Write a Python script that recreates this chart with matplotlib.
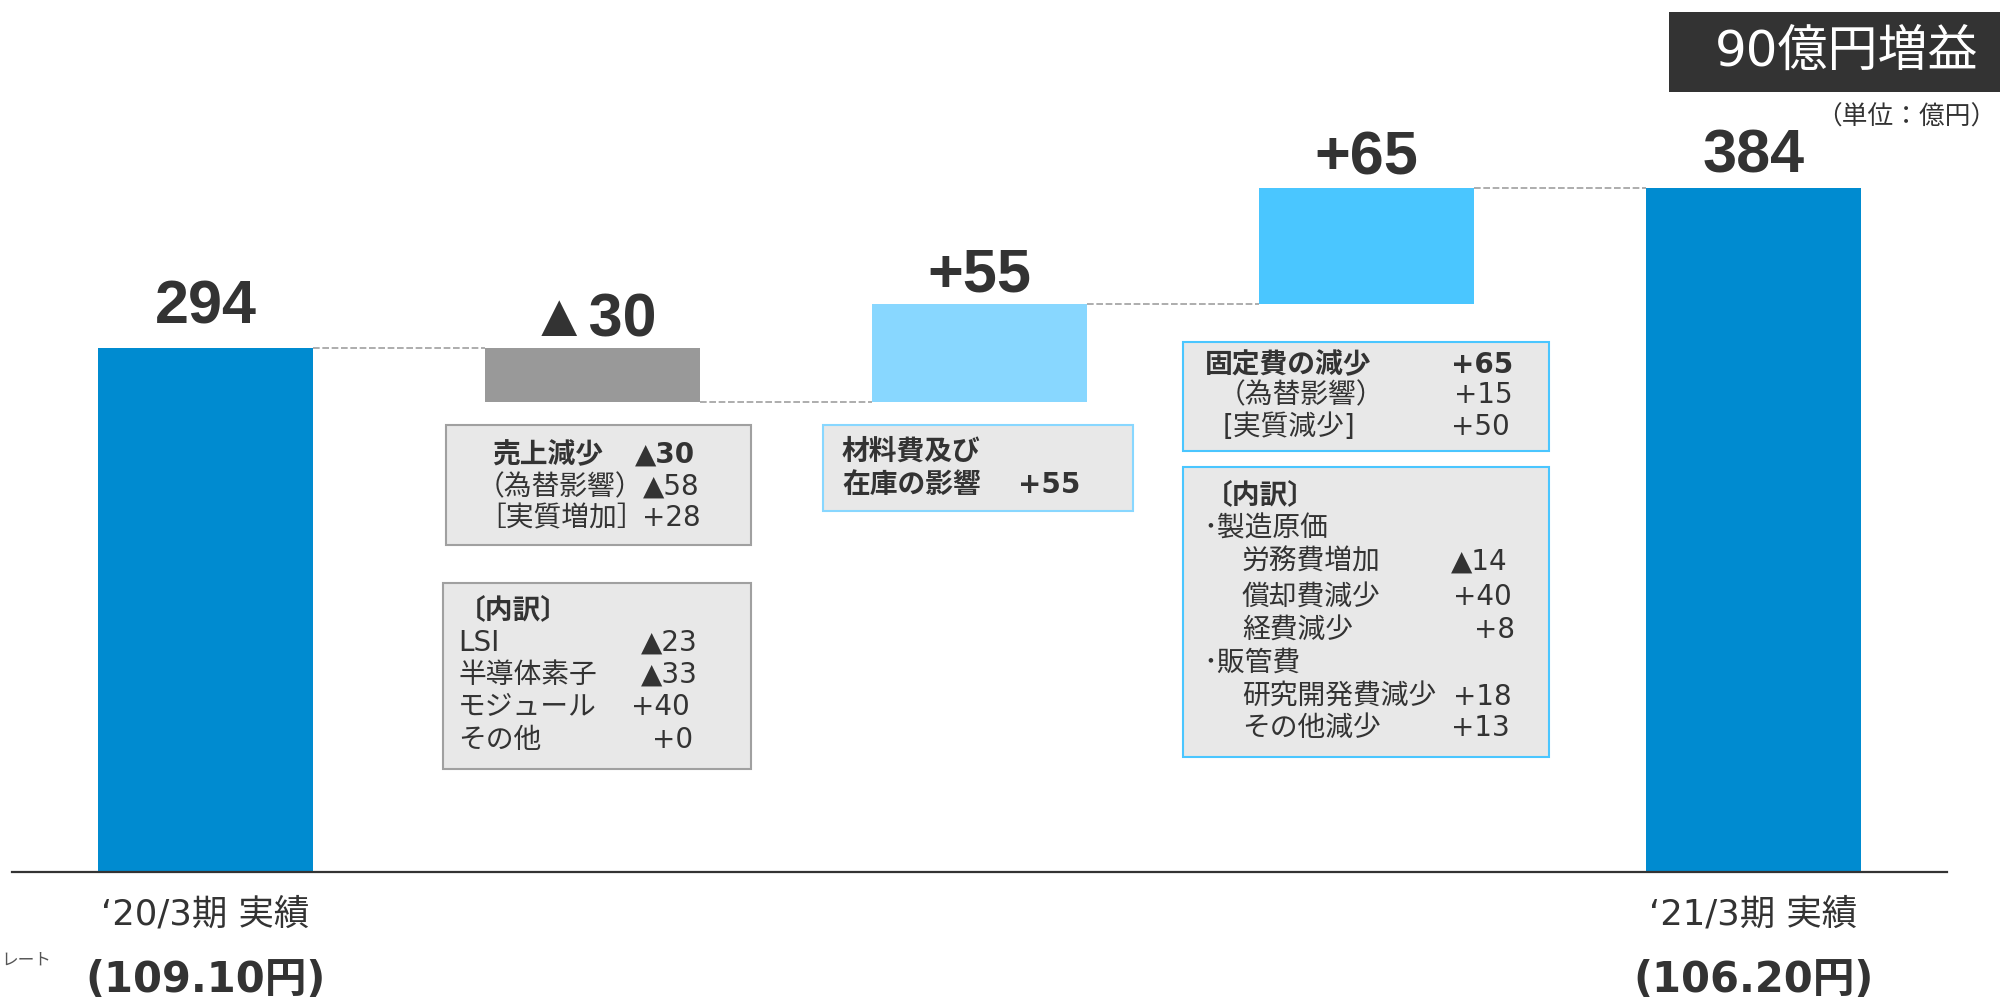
import matplotlib.pyplot as plt
from matplotlib.patches import Rectangle

plt.rcParams['font.family'] = ['DejaVu Sans', 'Noto Sans CJK JP']

# chart data
periods = ['‘20/3期 実績', '', '', '', '‘21/3期 実績']
fx_rates = ['(109.10円)', '', '', '', '(106.20円)']
steps = [294, -30, 55, 65, 384]
is_total = [True, False, False, False, True]
step_labels = ['294', '▲30', '+55', '+65', '384']
bar_colors = ['#008BD0', '#999999', '#88D7FF', '#4AC6FF', '#008BD0']

sales_labels = ['売上減少', '（為替影響）', '［実質増加］']
sales_values = ['▲30', '▲58', '+28']
sales_items = ['〔内訳〕', 'LSI', '半導体素子', 'モジュール', 'その他']
sales_item_values = ['', '▲23', '▲33', '+40', '+0']
material_labels = ['材料費及び', '在庫の影響']
material_values = ['', '+55']
fixed_labels = ['固定費の減少', '（為替影響）', '[実質減少]']
fixed_values = ['+65', '+15', '+50']
fixed_items = ['〔内訳〕', '･製造原価', '労務費増加', '償却費減少', '経費減少',
               '･販管費', '研究開発費減少', 'その他減少']
fixed_item_values = ['', '', '▲14', '+40', '+8', '', '+18', '+13']

W, H = 2000, 1000
TXT = '#333333'


def px(x, y):
    return x / W, 1 - y / H


fig = plt.figure(figsize=(20, 10), dpi=100)
ax = fig.add_axes([12 / W, 0.128, (1947 - 12) / W, 0.872])

# waterfall geometry
bottoms, heights, levels = [], [], []
running = 0
for v, tot in zip(steps, is_total):
    if tot:
        bottoms.append(0)
        heights.append(v)
        running = v
    else:
        bottoms.append(running + min(v, 0))
        heights.append(abs(v))
        running += v
    levels.append(running)

xs = list(range(len(steps)))
bw = 0.556
ax.bar(xs, heights, bottom=bottoms, width=bw, color=bar_colors, zorder=2)

for i in range(len(steps) - 1):
    ax.plot([i + bw / 2, i + 1 - bw / 2], [levels[i], levels[i]],
            color='#A0A0A0', lw=1.2, ls=(0, (4, 1.6)), zorder=1)

label_offsets = [25, 12, 12, 13, 15]
for i, lab in enumerate(step_labels):
    top = bottoms[i] + heights[i]
    ax.annotate(lab, (i, top), xytext=(0, label_offsets[i]), textcoords='offset pixels',
                ha='center', va='baseline', fontsize=44, fontweight='bold',
                family=['Liberation Sans', 'DejaVu Sans'], color=TXT)

for i in xs:
    if periods[i]:
        ax.annotate(periods[i], (i, 0), xytext=(0, -42), textcoords='offset pixels',
                    ha='center', va='center', fontsize=25.5, color=TXT, annotation_clip=False)
        ax.annotate(fx_rates[i], (i, 0), xytext=(0, -108), textcoords='offset pixels',
                    ha='center', va='center', fontsize=30, fontweight='bold', color=TXT,
                    annotation_clip=False)

ax.set_xlim(-0.5, 4.5)
ax.set_ylim(0, 872 / 1.782)
for s in ['top', 'right', 'left']:
    ax.spines[s].set_visible(False)
ax.spines['bottom'].set_color(TXT)
ax.spines['bottom'].set_linewidth(1.6)
ax.set_xticks([])
ax.set_yticks([])

# headline box
fig.add_artist(Rectangle(px(1669, 92), 400 / W, 80 / H, transform=fig.transFigure,
                         facecolor='#333333', edgecolor='none'))
fig.text(*px(1715, 52), '90億円増益', color='white', fontsize=36, ha='left', va='center')
fig.text(*px(1996, 118), '（単位：億円）', color=TXT, fontsize=18.5, ha='right', va='center')
fig.text(*px(1, 960), 'レート', color='#555555', fontsize=12, ha='left', va='center')


def draw_box(x0, y0, x1, y1, edge):
    fig.add_artist(Rectangle(px(x0, y1), (x1 - x0) / W, (y1 - y0) / H,
                             transform=fig.transFigure, facecolor='#E8E8E8',
                             edgecolor=edge, lw=1.5))


def write_rows(labels, values, ys, label_xs, value_xs, bold_rows, value_ha='right'):
    for k, (lab, val) in enumerate(zip(labels, values)):
        fw = 'bold' if k in bold_rows else 'normal'
        fig.text(*px(label_xs[k], ys[k]), lab, fontsize=20, color=TXT,
                 ha='left', va='center', fontweight=fw)
        if val:
            fig.text(*px(value_xs[k], ys[k]), val, fontsize=20, color=TXT,
                     ha=value_ha, va='center', fontweight=fw)


# sales decrease
draw_box(446, 425, 751, 545, '#A0A0A0')
write_rows(sales_labels, sales_values, [455, 487, 518], [492, 477, 478],
           [635, 643, 642], [0], value_ha='left')
draw_box(443, 583, 751, 769, '#A0A0A0')
write_rows(sales_items, sales_item_values, [610, 643, 675, 707, 740], [458] * 5,
           [0, 698, 698, 690, 693], [0])

# material cost
draw_box(823, 425, 1133, 511, '#88D7FF')
write_rows(material_labels, material_values, [452, 485], [842, 842],
           [0, 1018], [0, 1], value_ha='left')

# fixed cost
draw_box(1183, 342, 1549, 451, '#4AC6FF')
write_rows(fixed_labels, fixed_values, [365, 395, 427], [1205, 1218, 1223],
           [1513, 1513, 1510], [0])
draw_box(1183, 467, 1549, 757, '#4AC6FF')
write_rows(fixed_items, fixed_item_values, [495, 528, 562, 597, 630, 663, 697, 728],
           [1205, 1203, 1242, 1242, 1242, 1203, 1242, 1242],
           [0, 0, 1508, 1512, 1515, 0, 1512, 1510], [0])

fig.savefig('out.png', dpi=100)
